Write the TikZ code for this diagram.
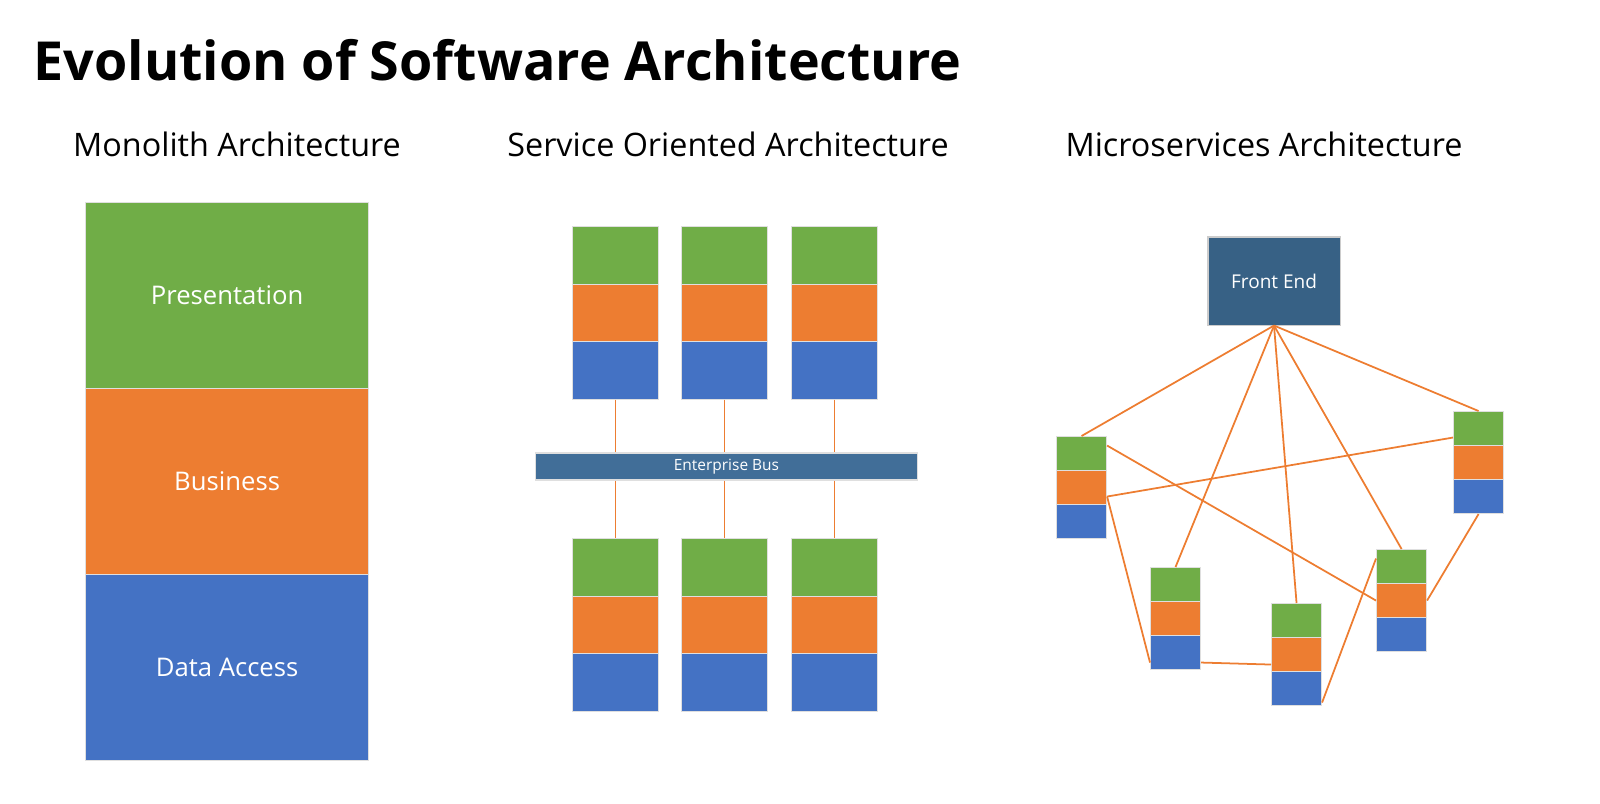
\documentclass[tikz,border=0pt]{standalone}
\usepackage{fontspec}
\setmainfont{Open Sans}
\definecolor{layergreen}{HTML}{70AD47}
\definecolor{layerorange}{HTML}{ED7D31}
\definecolor{layerblue}{HTML}{4472C4}
\definecolor{busblue}{HTML}{416E98}
\definecolor{frontblue}{HTML}{376185}
\begin{document}
\begin{tikzpicture}[x=0.01cm, y=-0.01cm,
  layer/.style={draw=gray!25, line width=0.3pt, inner sep=0pt, anchor=north west},
  pres node/.style={layer, fill=layergreen},
  busi node/.style={layer, fill=layerorange},
  data node/.style={layer, fill=layerblue},
  link/.style={draw=layerorange, line width=0.5pt},
  head/.style={font=\fontsize{9.2}{11}\selectfont, anchor=base}]
  \useasboundingbox (0,0) rectangle (1600,803);
  \node[anchor=base west, font=\fontsize{15.3}{18}\selectfont\bfseries, inner sep=0pt] (title) at (33,80) {Evolution of Software Architecture};
  \node[head] (h1) at (237,156) {Monolith Architecture};
  \node[head] (h2) at (728,156) {Service Oriented Architecture};
  \node[head] (h3) at (1264,156) {Microservices Architecture};
  % monolith
  \node[pres node, minimum width=2.83cm, minimum height=1.86cm, text=white, font=\fontsize{7.3}{9}\selectfont] (mp) at (85,202) {Presentation};
  \node[busi node, minimum width=2.83cm, minimum height=1.86cm, text=white, font=\fontsize{7.3}{9}\selectfont] (mb) at (85,388) {Business};
  \node[data node, minimum width=2.83cm, minimum height=1.86cm, text=white, font=\fontsize{7.3}{9}\selectfont] (md) at (85,574) {Data Access};
  % service oriented
  \node[fill=busblue, draw=gray!25, line width=0.3pt, minimum width=3.81cm, minimum height=0.27cm, inner sep=0pt, text=white, font=\fontsize{4.4}{5}\selectfont] (bus) at (726.5,466.5) {Enterprise Bus};
  \foreach \i/\x in {1/572, 2/681, 3/791} {
    \foreach \r/\y in {t/226, b/538} {
      \node[pres node, minimum width=0.86cm, minimum height=0.575cm] (s\r\i p) at (\x,\y) {};
      \node[busi node, minimum width=0.86cm, minimum height=0.575cm] (s\r\i b) at (\x,\y+57.5) {};
      \node[data node, minimum width=0.86cm, minimum height=0.575cm] (s\r\i d) at (\x,\y+115) {};
    }
    \draw[link] (st\i d.south) -- (st\i d.south |- bus.north);
    \draw[link] (sb\i p.north |- bus.south) -- (sb\i p.north);
  }
  % microservices
  \node[fill=frontblue, draw=gray!40, line width=0.3pt, minimum width=1.32cm, minimum height=0.88cm, inner sep=0pt, text=white, font=\fontsize{5.4}{6}\selectfont] (fe) at (1274,281) {Front End};
  \foreach \i/\x/\y in {1/1056/436, 2/1150/567, 3/1271/603, 4/1376/549, 5/1453/411} {
    \node[pres node, minimum width=0.5cm, minimum height=0.34cm] (m\i p) at (\x,\y) {};
    \node[busi node, minimum width=0.5cm, minimum height=0.34cm] (m\i b) at (\x,\y+34) {};
    \node[data node, minimum width=0.5cm, minimum height=0.34cm] (m\i d) at (\x,\y+68) {};
    \draw[link] (fe.south) -- (m\i p.north);
  }
  \draw[link] ([yshift=-0.09cm]m1b.east) -- ([yshift=-0.09cm]m5p.west);
  \draw[link] ([yshift=0.08cm]m1p.east) -- (m4b.west);
  \draw[link] ([yshift=-0.09cm]m1b.east) -- ([yshift=-0.1cm]m2d.west);
  \draw[link] ([yshift=-0.1cm]m2d.east) -- ([yshift=-0.1cm]m3b.west);
  \draw[link] ([yshift=-0.14cm]m3d.east) -- ([yshift=0.08cm]m4p.west);
  \draw[link] (m4b.east) -- (m5d.south);
\end{tikzpicture}
\end{document}
